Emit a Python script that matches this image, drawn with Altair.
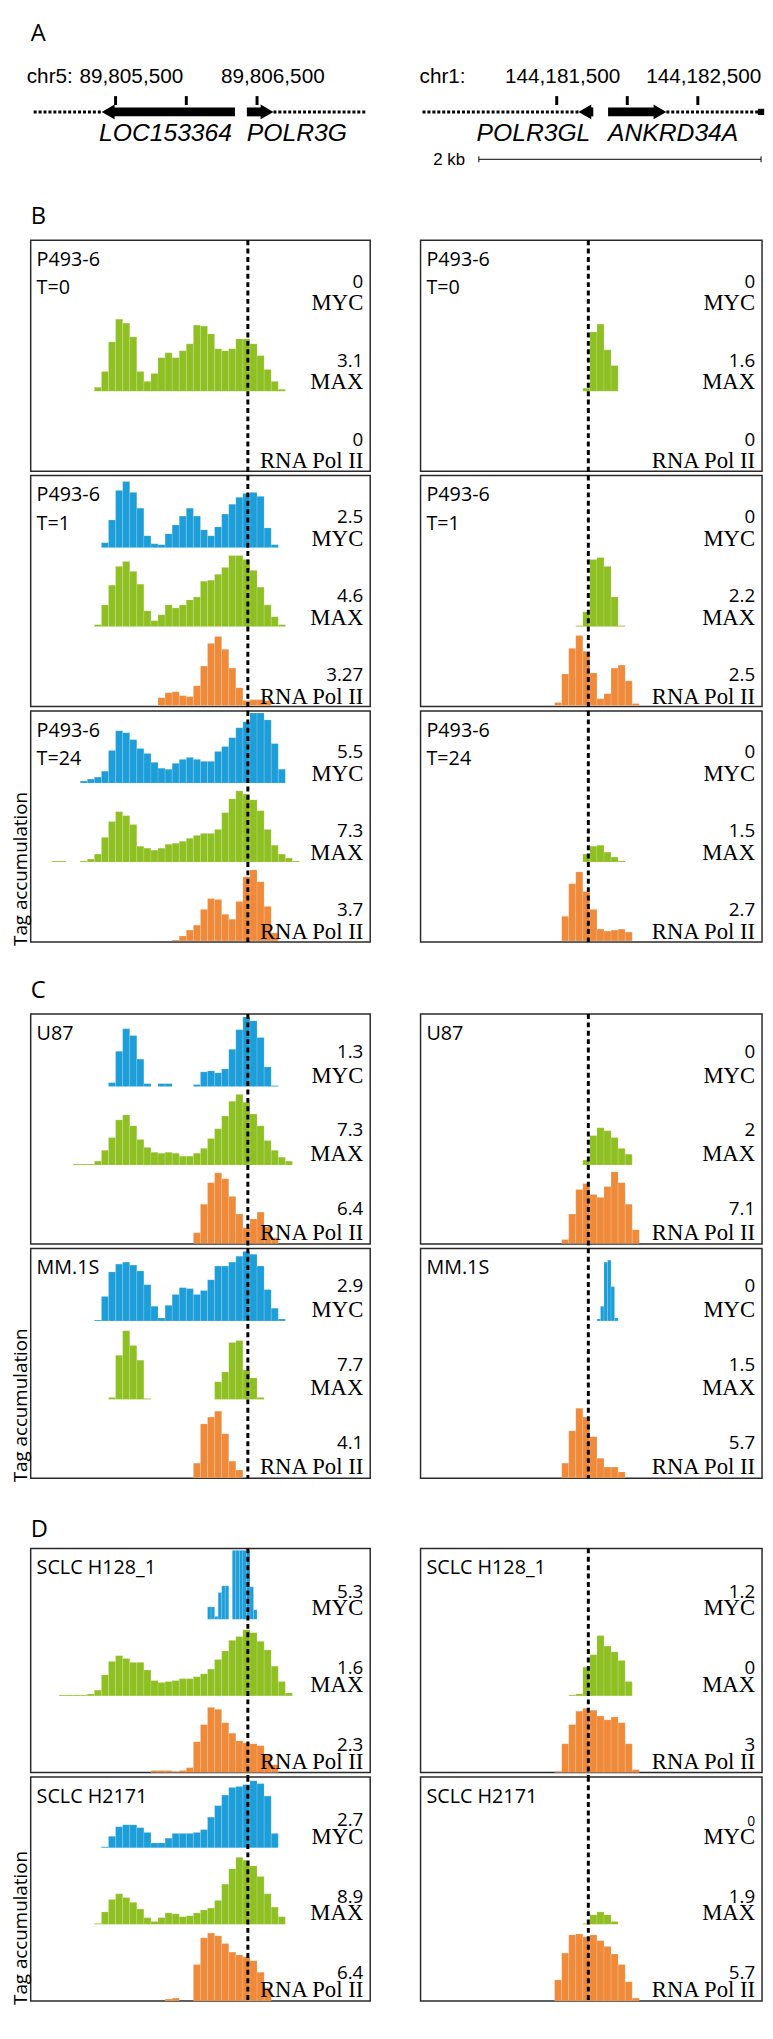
import altair as alt
import pandas as pd

# ---------------- genomic windows / annotation ----------------
LEFT_WINDOW = [89804900, 89807300]
RIGHT_WINDOW = [144180535, 144182955]
LEFT_TSS = 89806435
RIGHT_TSS = 144181724

LEFT_TICKS = [89805500, 89806000, 89806500]
LEFT_TICK_LABELS = ["89,805,500", "", "89,806,500"]
RIGHT_TICKS = [144181500, 144182000, 144182500]
RIGHT_TICK_LABELS = ["144,181,500", "", "144,182,500"]

GENE_NAMES = ["LOC153364", "POLR3G", "POLR3GL", "ANKRD34A"]
GENE_SIDE = ["L", "L", "R", "R"]
GENE_START = [89805402, 89806428, 144181654, 144181864]
GENE_END = [89806344, 89806616, 144181759, 144182277]
GENE_STRAND = ["-", "+", "-", "+"]
LOCUS_START = [89804921, 144180549]
LOCUS_END = [89807272, 144182948]
SCALE_BAR = [144180948, 144182948]

LANES = ["MYC", "MAX", "RNA Pol II"]
LANE_COLORS = ["#1E9ED9", "#8FC023", "#EF8A3B"]

# ---------------- boxes ----------------
BOX_IDS = ["B1", "B2", "B3", "C1", "C2", "D1", "D2"]
BOX_SECTION = ["B", "B", "B", "C", "C", "D", "D"]
SAMPLE_NAMES = ["P493-6\nT=0", "P493-6\nT=1", "P493-6\nT=24", "U87", "MM.1S",
                "SCLC H128_1", "SCLC H2171"]
LEFT_SCALES = [["0", "3.1", "0"], ["2.5", "4.6", "3.27"], ["5.5", "7.3", "3.7"],
               ["1.3", "7.3", "6.4"], ["2.9", "7.7", "4.1"], ["5.3", "1.6", "2.3"],
               ["2.7", "8.9", "6.4"]]
RIGHT_SCALES = [["0", "1.6", "0"], ["0", "2.2", "2.5"], ["0", "1.5", "2.7"],
                ["0", "2", "7.1"], ["0", "1.5", "5.7"], ["1.2", "0", "3"],
                ["0", "1.9", "5.7"]]

# ---------------- tag accumulation profiles (relative heights per bin) ----------------
B1L_MAX = [4, 20, 50, 73, 69, 55, 20, 10, 18, 34, 39, 34, 41, 48, 67, 66, 58, 43, 41, 43,
           53, 53, 48, 36, 22, 10, 2]
B1R_MAX = [3, 60, 68, 42, 26]
B2L_MYC = [5, 28, 58, 67, 56, 40, 12, 4, 3, 14, 23, 32, 40, 32, 18, 12, 21, 34, 44, 51,
           55, 56, 52, 20, 3]
B2L_MAX = [2, 22, 42, 61, 66, 56, 43, 16, 6, 12, 22, 19, 22, 27, 30, 46, 47, 53, 60, 72,
           72, 68, 57, 40, 22, 10, 2]
B2L_RNA = [8, 13, 14, 10, 9, 20, 40, 63, 70, 57, 38, 18, 5, 6, 6, 5]
B2R_MAX = [1, 15, 68, 70, 61, 30, 1]
B2R_RNA = [3, 32, 58, 71, 55, 33, 7, 12, 38, 41, 25, 2]
B3L_MYC = [2, 4, 6, 12, 33, 53, 51, 44, 35, 30, 21, 15, 14, 20, 24, 26, 24, 22, 22, 32,
           37, 46, 56, 62, 71, 71, 64, 40, 14]
B3L_MAX = [1, 1, 0, 0, 1, 3, 8, 25, 41, 51, 47, 38, 16, 14, 12, 14, 18, 19, 21, 24,
           27, 29, 29, 33, 50, 64, 72, 69, 63, 52, 33, 17, 8, 4, 1]
B3L_RNA = [1, 5, 11, 16, 32, 43, 42, 27, 22, 40, 65, 72, 60, 35, 8]
B3R_MAX = [8, 16, 17, 10, 5, 1]
B3R_RNA = [25, 58, 70, 50, 32, 12, 10, 11, 12, 9]
C1L_MYC = [4, 36, 59, 52, 28, 3, 0, 3, 3, 0, 0, 0, 2, 15, 16, 14, 18, 38, 58, 71, 67, 50,
           20, 1]
C1L_MAX = [1, 1, 1, 4, 15, 28, 46, 51, 40, 26, 18, 13, 12, 13, 12, 9, 9, 12, 17, 27,
           37, 50, 65, 72, 64, 52, 40, 25, 15, 8, 4]
C1L_RNA = [11, 40, 62, 72, 66, 48, 30, 16, 25, 32, 17, 6]
C1R_MAX = [5, 30, 38, 35, 28, 17, 11]
C1R_RNA = [4, 30, 55, 61, 50, 47, 58, 73, 62, 40, 14]
C2L_MYC = [1, 25, 50, 58, 60, 57, 51, 37, 15, 3, 16, 27, 34, 33, 27, 31, 42, 56, 56, 60,
           66, 71, 68, 56, 32, 13, 2]
C2L_MAX = [2, 45, 70, 55, 40, 1, 0, 0, 0, 0, 0, 0, 0, 0, 0, 18, 28, 58, 60, 30, 22, 2]
C2L_RNA = [15, 55, 62, 68, 45, 17, 8]
C2R_MYC = [2, 15, 60, 62, 35, 3]
C2R_RNA = [15, 48, 71, 62, 42, 20, 11, 11, 6]
D1L_MYC = [13, 13, 3, 28, 35, 35, 0, 72, 72, 72, 72, 72, 34, 10]
D1L_MAX = [1, 1, 1, 1, 2, 6, 22, 36, 42, 39, 35, 35, 27, 16, 14, 15, 16, 18, 18, 20,
           23, 28, 38, 47, 58, 62, 69, 66, 57, 48, 31, 15, 3]
D1L_RNA = [2, 2, 2, 1, 2, 5, 32, 50, 68, 66, 52, 41, 33, 31, 30, 28, 19, 8]
D1R_MAX = [1, 2, 30, 43, 63, 52, 46, 37, 15]
D1R_RNA = [1, 30, 50, 64, 67, 65, 59, 55, 58, 52, 30, 3]
D2L_MYC = [1, 12, 22, 24, 24, 21, 16, 5, 5, 10, 15, 15, 15, 16, 19, 32, 44, 55, 63, 64,
           66, 70, 67, 54, 15]
D2L_MAX = [1, 13, 26, 32, 28, 23, 16, 7, 3, 7, 12, 11, 8, 9, 12, 15, 17, 25, 42, 58,
           70, 67, 61, 50, 32, 18, 8]
D2L_RNA = [2, 3, 0, 0, 38, 66, 71, 68, 60, 51, 48, 46, 42, 30, 14]
D2R_MAX = [1, 10, 13, 10, 3]
D2R_RNA = [22, 50, 69, 70, 67, 69, 63, 57, 49, 38, 20, 3]

# (box, side, lane, first bin, bin size in bp, heights)
TRACKS = [
    ("B1", "L", "MAX", 9, 50, B1L_MAX), ("B1", "R", "MAX", 23, 50, B1R_MAX),
    ("B2", "L", "MYC", 10, 50, B2L_MYC), ("B2", "L", "MAX", 9, 50, B2L_MAX),
    ("B2", "L", "RNA Pol II", 18, 50, B2L_RNA), ("B2", "R", "MAX", 22, 50, B2R_MAX),
    ("B2", "R", "RNA Pol II", 19, 50, B2R_RNA),
    ("B3", "L", "MYC", 7, 50, B3L_MYC), ("B3", "L", "MAX", 3, 50, B3L_MAX),
    ("B3", "L", "RNA Pol II", 20, 50, B3L_RNA), ("B3", "R", "MAX", 23, 50, B3R_MAX),
    ("B3", "R", "RNA Pol II", 20, 50, B3R_RNA),
    ("C1", "L", "MYC", 11, 50, C1L_MYC), ("C1", "L", "MAX", 6, 50, C1L_MAX),
    ("C1", "L", "RNA Pol II", 23, 50, C1L_RNA), ("C1", "R", "MAX", 23, 50, C1R_MAX),
    ("C1", "R", "RNA Pol II", 20, 50, C1R_RNA),
    ("C2", "L", "MYC", 9, 50, C2L_MYC), ("C2", "L", "MAX", 11, 50, C2L_MAX),
    ("C2", "L", "RNA Pol II", 23, 50, C2L_RNA), ("C2", "R", "MYC", 50, 25, C2R_MYC),
    ("C2", "R", "RNA Pol II", 20, 50, C2R_RNA),
    ("D1", "L", "MYC", 50, 25, D1L_MYC), ("D1", "L", "MAX", 4, 50, D1L_MAX),
    ("D1", "L", "RNA Pol II", 17, 50, D1L_RNA), ("D1", "R", "MAX", 21, 50, D1R_MAX),
    ("D1", "R", "RNA Pol II", 19, 50, D1R_RNA),
    ("D2", "L", "MYC", 10, 50, D2L_MYC), ("D2", "L", "MAX", 9, 50, D2L_MAX),
    ("D2", "L", "RNA Pol II", 19, 50, D2L_RNA), ("D2", "R", "MAX", 23, 50, D2R_MAX),
    ("D2", "R", "RNA Pol II", 19, 50, D2R_RNA),
]

# ---------------- layout / style ----------------
LANE_BASE = {"MYC": 160, "MAX": 80, "RNA Pol II": 0}
SECTION_H = {"B": 234, "C": 233, "D": 227}
SECTION_YDOM = {"B": [-1, 233], "C": [-0.5, 234], "D": [0, 234]}
NUM_DY = {"B": -25, "C": -29, "D": -22}
NAME_DY = {"B": -2, "C": -4, "D": -4}
LETTER_Y = {"B": -16, "C": -16, "D": -12}
FIRST_IN_SECTION = {"B1": "B", "C1": "C", "D1": "D"}
LAST_IN_SECTION = {"B3", "C2", "D2"}
SMALL_NUMBERS = {("D2", "R", "MYC")}
ROW_GAP = 4.5
SANS = "Open Sans"
SERIF = "Liberation Serif"
ARIAL = "Liberation Sans"

rows = []
for box, side, lane, start, bw, hs in TRACKS:
    origin = LEFT_WINDOW[0] if side == "L" else RIGHT_WINDOW[0]
    base = LANE_BASE[lane]
    for i, h in enumerate(hs):
        if h <= 0:
            continue
        x0 = origin + (start + i) * bw
        rows.append({"box": box, "side": side, "lane": lane, "x0": x0, "x1": x0 + bw,
                     "y0": base, "y1": base + h})
bars_df = pd.DataFrame(rows)

NOSTROKE = alt.ViewBackground(stroke="transparent")


def box_chart(idx, side):
    box = BOX_IDS[idx]
    sec = BOX_SECTION[idx]
    H = SECTION_H[sec]
    W = 344 if side == "L" else 346
    xs = alt.Scale(domain=LEFT_WINDOW if side == "L" else RIGHT_WINDOW, nice=False, zero=False)
    ys = alt.Scale(domain=SECTION_YDOM[sec], nice=False, zero=False)
    d = bars_df[(bars_df.box == box) & (bars_df.side == side)]
    bars = alt.Chart(d).mark_rect(stroke="white", strokeWidth=0.4, strokeOpacity=0.35).encode(
        x=alt.X("x0:Q", scale=xs, axis=None), x2="x1:Q",
        y=alt.Y("y0:Q", scale=ys, axis=None), y2="y1:Q",
        color=alt.Color("lane:N", scale=alt.Scale(domain=LANES, range=LANE_COLORS), legend=None),
    )
    y_end = H if box in LAST_IN_SECTION else H + ROW_GAP
    tss = alt.Chart(pd.DataFrame({"x": [LEFT_TSS if side == "L" else RIGHT_TSS]})).mark_rule(
        color="black", strokeWidth=3, strokeDash=[5, 3.5]
    ).encode(x=alt.X("x:Q", scale=xs, axis=None), y=alt.value(0), y2=alt.value(y_end))
    scales = LEFT_SCALES[idx] if side == "L" else RIGHT_SCALES[idx]
    lab = pd.DataFrame({
        "lane": LANES,
        "base": [LANE_BASE[l] for l in LANES],
        "num": scales,
        "fs": [14 if (box, side, l) in SMALL_NUMBERS else 19 for l in LANES],
    })
    nums = alt.Chart(lab).mark_text(align="right", baseline="alphabetic", font=SANS,
                                    dy=NUM_DY[sec], color="black").encode(
        x=alt.value(W - 7), y=alt.Y("base:Q", scale=ys, axis=None), text="num:N",
        size=alt.Size("fs:Q", scale=None, legend=None))
    names = alt.Chart(lab).mark_text(align="right", baseline="alphabetic", font=SERIF,
                                     fontSize=23, dy=NAME_DY[sec], color="black").encode(
        x=alt.value(W - 7), y=alt.Y("base:Q", scale=ys, axis=None), text="lane:N")
    sample = alt.Chart(pd.DataFrame({"t": [SAMPLE_NAMES[idx]]})).mark_text(
        align="left", baseline="alphabetic", font=SANS, fontSize=20, lineBreak="\n",
        lineHeight=29, color="black").encode(x=alt.value(6), y=alt.value(26), text="t:N")
    layers = [bars, tss, nums, names, sample]
    if side == "L" and box in FIRST_IN_SECTION:
        letter = FIRST_IN_SECTION[box]
        layers.append(alt.Chart(pd.DataFrame({"t": [letter]})).mark_text(
            align="left", baseline="alphabetic", font=SANS, fontSize=24, color="black").encode(
            x=alt.value(0), y=alt.value(LETTER_Y[letter]), text="t:N"))
    if side == "L" and box in LAST_IN_SECTION:
        layers.append(alt.Chart(pd.DataFrame({"t": ["Tag accumulation"]})).mark_text(
            align="left", baseline="middle", angle=270, font=SANS, fontSize=19, color="black").encode(
            x=alt.value(-9.5), y=alt.value(H + 4), text="t:N"))
    return alt.layer(*layers).properties(width=W, height=H)


def gene_chart(side):
    W = 344 if side == "L" else 346
    k = 0 if side == "L" else 1
    xs = alt.Scale(domain=LEFT_WINDOW if side == "L" else RIGHT_WINDOW, nice=False, zero=False)
    X = lambda f: alt.X(f, scale=xs, axis=None)
    gi = [i for i in range(len(GENE_NAMES)) if GENE_SIDE[i] == side]
    g = pd.DataFrame({
        "name": [GENE_NAMES[i] for i in gi],
        "start": [GENE_START[i] for i in gi],
        "end": [GENE_END[i] for i in gi],
        "strand": [GENE_STRAND[i] for i in gi],
    })
    head = 85
    g["b0"] = [s + head if st == "-" else s for s, st in zip(g.start, g.strand)]
    g["b1"] = [e - head if st == "+" else e for e, st in zip(g.end, g.strand)]
    g["tip"] = [s if st == "-" else e for s, e, st in zip(g.start, g.end, g.strand)]
    minus = g[g.strand == "-"]
    plus = g[g.strand == "+"]

    ticks = pd.DataFrame({"pos": LEFT_TICKS if side == "L" else RIGHT_TICKS,
                          "lab": LEFT_TICK_LABELS if side == "L" else RIGHT_TICK_LABELS})
    segs = pd.DataFrame({"a": [LOCUS_START[k], g.end.max()], "b": [g.start.min(), LOCUS_END[k]]})

    layers = []
    layers.append(alt.Chart(segs).mark_rule(color="black", strokeWidth=3, strokeDash=[3, 2]).encode(
        x=X("a:Q"), x2="b:Q", y=alt.value(91)))
    layers.append(alt.Chart(ticks).mark_rule(color="black", strokeWidth=3).encode(
        x=X("pos:Q"), y=alt.value(75), y2=alt.value(84)))
    layers.append(alt.Chart(ticks).mark_text(font=ARIAL, fontSize=21, baseline="alphabetic",
                                             align="center", dx=16 if side == "L" else 6,
                                             color="black").encode(
        x=X("pos:Q"), y=alt.value(62), text="lab:N"))
    layers.append(alt.Chart(pd.DataFrame({"t": ["chr5:" if side == "L" else "chr1:"]})).mark_text(
        font=ARIAL, fontSize=21, baseline="alphabetic", align="left", color="black").encode(
        x=alt.value(-4 if side == "L" else -1), y=alt.value(62), text="t:N"))
    layers.append(alt.Chart(g).mark_rect(color="black").encode(
        x=X("b0:Q"), x2="b1:Q", y=alt.value(86.5), y2=alt.value(95.5)))
    layers.append(alt.Chart(minus).mark_point(shape="triangle-left", filled=True, size=225,
                                              opacity=1, color="black", xOffset=6.5).encode(
        x=X("tip:Q"), y=alt.value(91)))
    layers.append(alt.Chart(plus).mark_point(shape="triangle-right", filled=True, size=225,
                                             opacity=1, color="black", xOffset=-6.5).encode(
        x=X("tip:Q"), y=alt.value(91)))
    layers.append(alt.Chart(minus).mark_text(font=ARIAL, fontStyle="italic", fontSize=25,
                                             align="right", baseline="alphabetic", dx=-3,
                                             color="black").encode(
        x=X("end:Q"), y=alt.value(120), text="name:N"))
    layers.append(alt.Chart(plus).mark_text(font=ARIAL, fontStyle="italic", fontSize=25,
                                            align="left", baseline="alphabetic",
                                            color="black").encode(
        x=X("start:Q"), y=alt.value(120), text="name:N"))
    if side == "L":
        layers.append(alt.Chart(pd.DataFrame({"t": ["A"]})).mark_text(
            font=SANS, fontSize=24, align="left", baseline="alphabetic", color="black").encode(
            x=alt.value(0), y=alt.value(19), text="t:N"))
    else:
        sb = pd.DataFrame({"a": [SCALE_BAR[0]], "b": [SCALE_BAR[1]]})
        sbe = pd.DataFrame({"p": SCALE_BAR})
        layers.append(alt.Chart(sb).mark_rule(color="black", strokeWidth=1).encode(
            x=X("a:Q"), x2="b:Q", y=alt.value(139)))
        layers.append(alt.Chart(sbe).mark_rule(color="black", strokeWidth=1).encode(
            x=X("p:Q"), y=alt.value(136), y2=alt.value(142)))
        layers.append(alt.Chart(sb).mark_text(font=ARIAL, fontSize=17, align="right",
                                              baseline="alphabetic", dx=-14, color="black").encode(
            x=X("a:Q"), y=alt.value(145), text=alt.value("2 kb")))
        layers.append(alt.Chart(pd.DataFrame({"p": [LOCUS_END[k]]})).mark_square(
            size=40, opacity=1, color="black").encode(x=X("p:Q"), y=alt.value(91)))
    return alt.layer(*layers).properties(width=W, height=149, view=NOSTROKE)


def spacer(h, w):
    return alt.Chart(pd.DataFrame({"v": [0]})).mark_point(opacity=0).encode(
        x=alt.value(0), y=alt.value(0)).properties(width=w, height=h, view=NOSTROKE)


cells = [gene_chart("L"), gene_chart("R"), spacer(63, 344), spacer(63, 346)]
for i in range(3):
    cells += [box_chart(i, "L"), box_chart(i, "R")]
cells += [spacer(64, 344), spacer(64, 346)]
for i in range(3, 5):
    cells += [box_chart(i, "L"), box_chart(i, "R")]
cells += [spacer(61.5, 344), spacer(61.5, 346)]
for i in range(5, 7):
    cells += [box_chart(i, "L"), box_chart(i, "R")]

chart = alt.concat(*cells, columns=2, spacing={"row": ROW_GAP, "column": 51},
                   bounds="flush", align="each").properties(
    padding={"left": 3, "top": 0, "right": 0, "bottom": 0}).configure_view(
    stroke="#2a2a2a", strokeWidth=1.5)

chart.save("out.html", embed_options={"renderer": "svg", "actions": False})
